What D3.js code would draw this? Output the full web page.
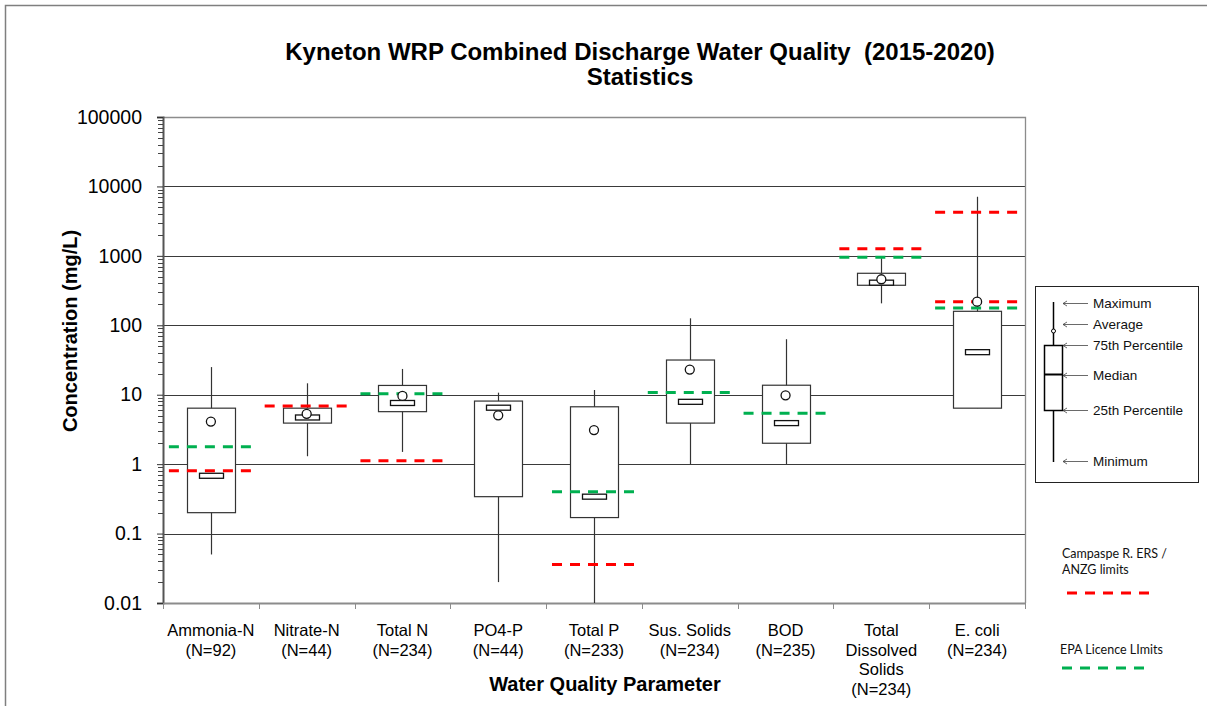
<!DOCTYPE html>
<html>
<head>
<meta charset="utf-8">
<script src="https://cdn.jsdelivr.net/npm/d3@7"></script>
<style>
  html, body { margin: 0; padding: 0; background: #fff; }
  svg { display: block; font-family: "Liberation Sans", Arial, sans-serif; }
</style>
</head>
<body>
<svg id="chart" width="1207" height="706"></svg>
<script>
// ---------------- Data ----------------
const categories = ["Ammonia-N", "Nitrate-N", "Total N", "PO4-P", "Total P", "Sus. Solids", "BOD", "Total Dissolved Solids", "E. coli"];
const categoryLabelLines = [["Ammonia-N"], ["Nitrate-N"], ["Total N"], ["PO4-P"], ["Total P"], ["Sus. Solids"], ["BOD"], ["Total", "Dissolved", "Solids"], ["E. coli"]];
const sampleCounts = [92, 44, 234, 44, 233, 234, 235, 234, 234];

const minValues    = [0.05, 1.3, 1.5, 0.02, 0.01, 1.0, 1.0, 207, 6.4];
const q1Values     = [0.2, 3.9, 5.7, 0.34, 0.17, 3.9, 2.0, 377, 6.4];
const medianValues = [0.68, 4.7, 7.6, 6.5, 0.34, 7.9, 3.9, 411, 41];
const q3Values     = [6.4, 6.4, 13.6, 8.1, 6.7, 31.6, 13.7, 561, 159];
const maxValues    = [25, 14.6, 23.5, 10.7, 11.7, 126, 63, 924, 7100];
const meanValues   = [4.1, 5.3, 9.6, 5.05, 3.1, 23, 9.8, 460, 219];

const ersLimitCategories = ["Ammonia-N", "Nitrate-N", "Total N", "Total P", "Total Dissolved Solids", "E. coli", "E. coli"];
const ersLimitValues     = [0.8, 6.9, 1.12, 0.036, 1270, 4250, 219];
const epaLimitCategories = ["Ammonia-N", "Total N", "Total P", "Sus. Solids", "BOD", "Total Dissolved Solids", "E. coli"];
const epaLimitValues     = [1.78, 10.3, 0.4, 10.8, 5.4, 955, 178];

const yTickValues = [0.01, 0.1, 1, 10, 100, 1000, 10000, 100000];
const yTickLabels = ["0.01", "0.1", "1", "10", "100", "1000", "10000", "100000"];

const legendItems = ["Maximum", "Average", "75th Percentile", "Median", "25th Percentile", "Minimum"];

// ---------------- Layout ----------------
const svg = d3.select("#chart");
const plot = { left: 163, right: 1025, top: 117, bottom: 603 };

const x = d3.scaleBand().domain(categories).range([plot.left, plot.right]).padding(0);
const y = d3.scaleLog().domain([0.01, 100000]).range([plot.bottom, plot.top]);

const boxes = categories.map((c, i) => ({
  cat: c, min: minValues[i], q1: q1Values[i], med: medianValues[i],
  q3: q3Values[i], max: maxValues[i], mean: meanValues[i]
}));
const ersLimits = ersLimitCategories.map((c, i) => ({ cat: c, value: ersLimitValues[i] }));
const epaLimits = epaLimitCategories.map((c, i) => ({ cat: c, value: epaLimitValues[i] }));

// outer chart frame
svg.append("path").attr("d", "M5.5,706 L5.5,5.5 L1207,5.5")
  .attr("fill", "none").attr("stroke", "#7f7f7f").attr("stroke-width", 1.5);

// title
const title = svg.append("text").attr("x", 640).attr("text-anchor", "middle")
  .attr("font-weight", "bold").attr("font-size", 24).attr("fill", "#000")
  .style("white-space", "pre").attr("xml:space", "preserve");
title.append("tspan").attr("x", 640).attr("y", 60).style("white-space", "pre")
  .text("Kyneton WRP Combined Discharge Water Quality  (2015-2020)");
title.append("tspan").attr("x", 640).attr("y", 85).text("Statistics");

// gridlines (decades)
svg.append("g").selectAll("line").data(yTickValues.slice(1, -1)).join("line")
  .attr("x1", plot.left).attr("x2", plot.right)
  .attr("y1", d => Math.round(y(d)) + 0.5).attr("y2", d => Math.round(y(d)) + 0.5)
  .attr("stroke", "#3a3a3a").attr("stroke-width", 1);

// plot border top & right
svg.append("path")
  .attr("d", `M${plot.left},${plot.top + 0.5} L${plot.right + 0.5},${plot.top + 0.5} L${plot.right + 0.5},${plot.bottom}`)
  .attr("fill", "none").attr("stroke", "#8c8c8c").attr("stroke-width", 1.3);

// y axis
const yAxis = d3.axisLeft(y).tickValues(yTickValues).tickFormat((d, i) => yTickLabels[i]).tickSize(6).tickPadding(15);
const yAxisG = svg.append("g").attr("transform", `translate(${plot.left},0)`).call(yAxis);
yAxisG.select(".domain").attr("stroke", "#555").attr("stroke-width", 2);
yAxisG.selectAll(".tick line").attr("stroke", "#333");
yAxisG.selectAll(".tick text").attr("font-size", 19.5).attr("fill", "#000")
  .attr("font-family", "'Liberation Sans', Arial, sans-serif");

// minor ticks
const minorTicks = [];
for (let e = -2; e < 5; e++) for (let m = 2; m <= 9; m++) minorTicks.push(m * Math.pow(10, e));
svg.append("g").selectAll("line").data(minorTicks).join("line")
  .attr("x1", plot.left - 5).attr("x2", plot.left)
  .attr("y1", d => Math.round(y(d)) + 0.5).attr("y2", d => Math.round(y(d)) + 0.5)
  .attr("stroke", "#444").attr("stroke-width", 1);

// x axis
const xAxis = d3.axisBottom(x).tickValues([]).tickSize(0);
const xAxisG = svg.append("g").attr("transform", `translate(0,${plot.bottom})`).call(xAxis);
xAxisG.select(".domain").attr("stroke", "#8c8c8c").attr("stroke-width", 2);
const boundaries = categories.map(c => x(c)).concat([plot.right]);
svg.append("g").selectAll("line").data(boundaries).join("line")
  .attr("x1", d => Math.round(d) + 0.5).attr("x2", d => Math.round(d) + 0.5)
  .attr("y1", plot.bottom).attr("y2", plot.bottom + 6)
  .attr("stroke", "#8c8c8c").attr("stroke-width", 1);

// x category labels
const labelG = svg.append("g").attr("font-size", 16.5).attr("fill", "#000").attr("text-anchor", "middle");
categories.forEach((c, i) => {
  const lines = categoryLabelLines[i].concat([`(N=${sampleCounts[i]})`]);
  const t = labelG.append("text");
  lines.forEach((l, j) => {
    t.append("tspan").attr("x", x(c) + x.bandwidth() / 2).attr("y", 636 + j * 19.5).text(l);
  });
});

// axis titles
svg.append("text").attr("x", 605).attr("y", 691).attr("text-anchor", "middle")
  .attr("font-weight", "bold").attr("font-size", 20).text("Water Quality Parameter");
svg.append("text").attr("transform", "translate(77,331) rotate(-90)").attr("text-anchor", "middle")
  .attr("font-weight", "bold").attr("font-size", 20).text("Concentration (mg/L)");

// ---------------- Box plots ----------------
const cx = d => x(d.cat) + x.bandwidth() / 2;
const boxW = 48, medW = 24, medH = 5;
const bg = svg.append("g");

bg.selectAll("line.whisker").data(boxes).join("line").attr("class", "whisker")
  .attr("x1", d => Math.round(cx(d)) + 0.5).attr("x2", d => Math.round(cx(d)) + 0.5)
  .attr("y1", d => y(d.min)).attr("y2", d => y(d.max))
  .attr("stroke", "#333").attr("stroke-width", 1.2);

bg.selectAll("rect.box").data(boxes).join("rect").attr("class", "box")
  .attr("x", d => Math.round(cx(d) - boxW / 2) + 0.5).attr("width", boxW)
  .attr("y", d => y(d.q3)).attr("height", d => y(d.q1) - y(d.q3))
  .attr("fill", "#fff").attr("stroke", "#333").attr("stroke-width", 1.2);

// limit lines
const limW = 84;
svg.append("g").selectAll("line").data(ersLimits).join("line")
  .attr("x1", d => cx(d) - limW / 2).attr("x2", d => cx(d) + limW / 2)
  .attr("y1", d => y(d.value)).attr("y2", d => y(d.value))
  .attr("stroke", "#ff0000").attr("stroke-width", 3).attr("stroke-dasharray", "10,8");
svg.append("g").selectAll("line").data(epaLimits).join("line")
  .attr("x1", d => cx(d) - limW / 2).attr("x2", d => cx(d) + limW / 2)
  .attr("y1", d => y(d.value)).attr("y2", d => y(d.value))
  .attr("stroke", "#00b050").attr("stroke-width", 3).attr("stroke-dasharray", "10,8");

// medians
bg.append("g").selectAll("rect").data(boxes).join("rect")
  .attr("x", d => Math.round(cx(d) - medW / 2) + 0.5).attr("width", medW)
  .attr("y", d => y(d.med) - medH / 2).attr("height", medH)
  .attr("fill", "#fff").attr("stroke", "#111").attr("stroke-width", 1.3);

// means
svg.append("g").selectAll("circle").data(boxes).join("circle")
  .attr("cx", d => cx(d)).attr("cy", d => y(d.mean)).attr("r", 4.5)
  .attr("fill", "#fff").attr("stroke", "#111").attr("stroke-width", 1.3);

// ---------------- Legend (box explanation) ----------------
const lg = svg.append("g");
lg.append("rect").attr("x", 1035.5).attr("y", 286.5).attr("width", 163).attr("height", 196)
  .attr("fill", "#fff").attr("stroke", "#222").attr("stroke-width", 1);
lg.append("line").attr("x1", 1053.5).attr("x2", 1053.5).attr("y1", 302).attr("y2", 462)
  .attr("stroke", "#000").attr("stroke-width", 1.5);
lg.append("rect").attr("x", 1044.5).attr("y", 345.5).attr("width", 18).attr("height", 65)
  .attr("fill", "#fff").attr("stroke", "#000").attr("stroke-width", 1.5);
lg.append("line").attr("x1", 1045).attr("x2", 1062).attr("y1", 374.5).attr("y2", 374.5)
  .attr("stroke", "#000").attr("stroke-width", 2);
lg.append("circle").attr("cx", 1053.5).attr("cy", 331).attr("r", 2)
  .attr("fill", "#fff").attr("stroke", "#000").attr("stroke-width", 1);
const legendY = [303, 324, 345, 375, 410, 461];
legendItems.forEach((t, i) => {
  const yy = legendY[i];
  lg.append("line").attr("x1", 1063).attr("x2", 1088).attr("y1", yy + 0.5).attr("y2", yy + 0.5)
    .attr("stroke", "#444").attr("stroke-width", 0.8);
  lg.append("path").attr("d", `M1067,${yy - 2} L1063,${yy + 0.5} L1067,${yy + 3}`)
    .attr("fill", "none").attr("stroke", "#444").attr("stroke-width", 0.8);
  lg.append("text").attr("x", 1093).attr("y", yy + 5).attr("font-size", 13.5).attr("fill", "#111").text(t);
});

// ---------------- Limit legends ----------------
const ll = svg.append("g").attr("font-family", "Lato, 'Open Sans', sans-serif").attr("font-size", 12.5).attr("fill", "#111");
ll.append("text").attr("x", 1062).attr("y", 558).text("Campaspe R. ERS /");
ll.append("text").attr("x", 1062).attr("y", 574).text("ANZG limits");
svg.append("line").attr("x1", 1067).attr("x2", 1152).attr("y1", 593).attr("y2", 593)
  .attr("stroke", "#ff0000").attr("stroke-width", 3).attr("stroke-dasharray", "10,8");
ll.append("text").attr("x", 1060).attr("y", 654).text("EPA Licence LImits");
svg.append("line").attr("x1", 1062).attr("x2", 1147).attr("y1", 668).attr("y2", 668)
  .attr("stroke", "#00b050").attr("stroke-width", 3).attr("stroke-dasharray", "10,8");
</script>
</body>
</html>
